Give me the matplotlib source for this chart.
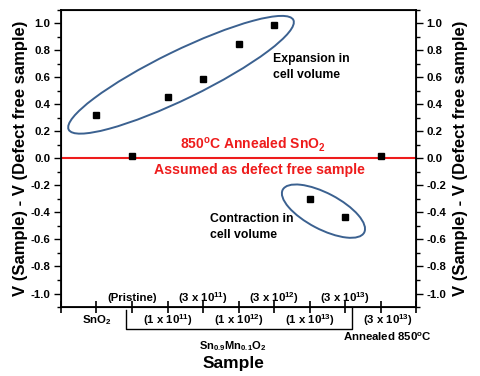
import numpy as np
import matplotlib
matplotlib.use("Agg")
import matplotlib.pyplot as plt
from matplotlib.patches import Ellipse
from matplotlib.transforms import ScaledTranslation, blended_transform_factory

plt.rcParams['font.family'] = ['Liberation Sans', 'DejaVu Sans']
plt.rcParams['font.weight'] = 'bold'
plt.rcParams['mathtext.default'] = 'regular'

# sample index and volume difference
sample_pos = [1, 2, 3, 4, 5, 6, 7, 8, 9]
dv = [0.325, 0.02, 0.455, 0.585, 0.85, 0.985, -0.30, -0.435, 0.02]

upper_pos = [2, 4, 6, 8]
upper_labels = ['(Pristine)', '(3 x 10$^{11}$)', '(3 x 10$^{12}$)', '(3 x 10$^{13}$)']
lower_pos = [1, 3, 5, 7, 9]
lower_labels = ['SnO$_2$', '(1 x 10$^{11}$)', '(1 x 10$^{12}$)', '(1 x 10$^{13}$)', '(3 x 10$^{13}$)']


def fmt(v, p):
    return '%.1f' % (round(v, 1) + 0.0)


fig = plt.figure(figsize=(4.8, 3.76), dpi=100)
ax = fig.add_axes([0.127, 0.1835, 0.74, 0.79])

ax.axhline(0, color='#ee1c1c', lw=1.5, zorder=1)
ax.plot(sample_pos, dv, 's', color='black', ms=4.2, zorder=3)

ax.set_xlim(0, 10)
ax.set_ylim(-1.1, 1.1)
ax.set_xticks(range(0, 11))
ax.set_xticklabels([])
ax.tick_params(axis='x', direction='inout', length=8, width=1.2, top=False)

ax2 = ax.twinx()
ax2.set_ylim(-1.1, 1.1)
for a in (ax, ax2):
    a.set_yticks(np.arange(-1.0, 1.01, 0.2))
    a.set_yticks(np.arange(-1.1, 1.11, 0.1), minor=True)
    a.yaxis.set_major_formatter(plt.FuncFormatter(fmt))
    a.tick_params(axis='y', which='major', direction='out', length=5, width=1, labelsize=8.2, pad=2.5)
    a.tick_params(axis='y', which='minor', direction='out', length=3, width=1)
for s in ax.spines.values():
    s.set_linewidth(1.3)

ylab = 'V (Sample) - V (Defect free sample)'
ax.set_ylabel(ylab, fontsize=12, fontweight='bold', labelpad=2)
ax2.set_ylabel(ylab, fontsize=12, fontweight='bold', labelpad=5)

# category labels along the x axis
bt = blended_transform_factory(ax.transData, ax.transAxes)
for x, t in zip(upper_pos, upper_labels):
    ax.text(x, 0.03, t, transform=bt, ha='center', va='center', fontsize=8.2)
for x, t in zip(lower_pos, lower_labels):
    ax.text(x + (0.2 if x == 9 else 0), -0.045, t, transform=bt, ha='center', va='center', fontsize=8.2)
ax.text(9.2, -0.1, 'Annealed 850$^{o}$C', transform=bt, ha='center', va='center', fontsize=8.2)

# bracket for the Mn doped samples
ax.plot([1.83, 1.83, 8.18, 8.18], [-1.125, -1.265, -1.265, -1.11], color='black', lw=1, clip_on=False)
ax.text(4.85, -0.13, 'Sn$_{0.9}$Mn$_{0.1}$O$_2$', transform=bt, ha='center', va='center', fontsize=8)
ax.text(4.85, -0.19, 'Sample', transform=bt, ha='center', va='center', fontsize=12.5)

# red reference text
ax.text(5.4, 0.03, '850$^{o}$C Annealed SnO$_2$', color='#ee1c1c', ha='center', va='bottom', fontsize=10)
ax.text(5.6, -0.03, 'Assumed as defect free sample', color='#ee1c1c', ha='center', va='top', fontsize=10.2)

ax.text(5.96, 0.68, 'Expansion in\ncell volume', ha='left', va='center', fontsize=8.8, linespacing=1.45)
ax.text(4.2, -0.505, 'Contraction in\ncell volume', ha='left', va='center', fontsize=8.8, linespacing=1.45)

# ellipses, sized in inches around data centers
ell_col = '#3b6190'
for cx, cy, w, h, ang in [(3.38, 0.62, 2.5, 0.48, 26), (7.39, -0.39, 0.92, 0.36, -27.7)]:
    tr = fig.dpi_scale_trans + ScaledTranslation(cx, cy, ax.transData)
    ax.add_patch(Ellipse((0, 0), w, h, angle=ang, transform=tr, fill=False,
                         edgecolor=ell_col, lw=1.4, zorder=2))

fig.savefig('out.png', dpi=100)
